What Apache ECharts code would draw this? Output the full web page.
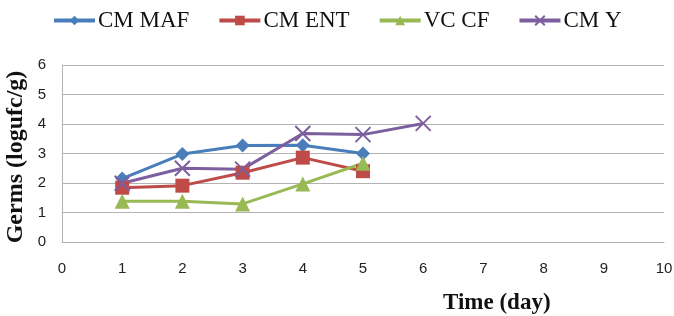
<!DOCTYPE html>
<html>
<head>
<meta charset="utf-8">
<script src="https://cdn.jsdelivr.net/npm/echarts@6/dist/echarts.min.js"></script>
<style>
  html, body { margin: 0; padding: 0; background: #fff; }
</style>
</head>
<body>
<div id="germChart" style="width:674px;height:316px"></div>
<script>
// days on the x axis
let days = [1, 2, 3, 4, 5, 6]
// germ counts (log ufc/g)
let cmMaf = [2.15, 2.98, 3.27, 3.28, 3.0]
let cmEnt = [1.84, 1.91, 2.35, 2.86, 2.4]
let vcCf = [1.38, 1.38, 1.29, 1.97, 2.67]
let cmY = [1.99, 2.5, 2.47, 3.68, 3.64, 4.02]

let colors = {
  maf: '#4a7ebb',
  ent: '#be4b48',
  vc: '#98b954',
  y: '#7d5fa0',
  tc: '#222',
  grid: '#b3b3b3'
}

function pairs(vals) {
  return vals.map((v, i) => [days[i], v])
}

function mkSeries(name, vals, color, symbol, size, extra) {
  let s = {
    name: name,
    type: 'line',
    data: pairs(vals),
    symbol: symbol,
    symbolSize: size,
    lineStyle: { color: color, width: 3 },
    itemStyle: { color: color },
    animation: false
  }
  return Object.assign(s, extra || {})
}

let chart = echarts.init(document.getElementById('germChart'))
chart.setOption({
  animation: false,
  legend: {
    top: 9,
    left: 52,
    padding: 0,
    itemWidth: 41,
    itemHeight: 12,
    itemGap: 28,
    lineStyle: { width: 4 },
    textStyle: { fontFamily: 'Liberation Serif', fontSize: 23, color: '#111', padding: [0, 0, 0, -2] },
    data: ['CM MAF', 'CM ENT', 'VC CF', 'CM Y']
  },
  grid: { left: 62, right: 10, top: 65, bottom: 74, outerBoundsMode: 'none', containLabel: false },
  xAxis: {
    type: 'value',
    min: 0,
    max: 10,
    interval: 1,
    axisLine: { show: true, lineStyle: { color: colors.grid } },
    axisTick: { show: false },
    splitLine: { show: false },
    axisLabel: { color: colors.tc, fontFamily: 'Liberation Sans', fontSize: 15, margin: 19 }
  },
  yAxis: {
    type: 'value',
    min: 0,
    max: 6,
    interval: 1,
    axisLine: { show: true, lineStyle: { color: colors.grid } },
    axisTick: { show: false },
    splitLine: { lineStyle: { color: colors.grid, width: 1 } },
    axisLabel: { color: colors.tc, fontFamily: 'Liberation Sans', fontSize: 15, margin: 16 }
  },
  graphic: [{
    type: 'text',
    left: 443,
    top: 292,
    style: { text: 'Time (day)', font: 'bold 23px "Liberation Serif"', fill: '#111' }
  }, {
    type: 'text',
    x: 16,
    y: 157,
    rotation: Math.PI / 2,
    style: {
      text: 'Germs (logufc/g)',
      font: 'bold 24px "Liberation Serif"',
      fill: '#111',
      align: 'center',
      verticalAlign: 'middle'
    }
  }],
  series: [
    mkSeries('CM MAF', cmMaf, colors.maf, 'diamond', 14),
    mkSeries('CM ENT', cmEnt, colors.ent, 'rect', 14),
    mkSeries('VC CF', vcCf, colors.vc, 'triangle', 15),
    mkSeries('CM Y', cmY, colors.y, 'path://M0,0L10,10M10,0L0,10', 15, {
      itemStyle: { color: colors.y, borderColor: colors.y, borderWidth: 2 }
    })
  ]
})
</script>
</body>
</html>
